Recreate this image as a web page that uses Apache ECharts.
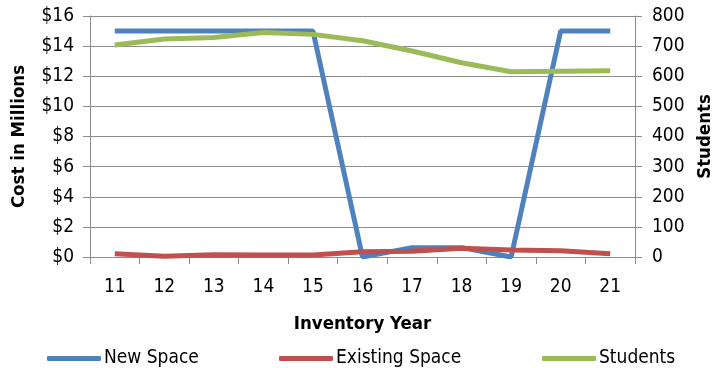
<!DOCTYPE html>
<html><head><meta charset="utf-8">
<script src="https://cdn.jsdelivr.net/npm/echarts@6/dist/echarts.min.js"></script>
<style>html,body{margin:0;padding:0;background:#fff}#c{width:717px;height:368px}</style>
</head><body><div id="c"></div>
<script>
const years = ['11','12','13','14','15','16','17','18','19','20','21'];
const newSpace = [15,15,15,15,15,0,0.62,0.62,0,15,15];
const existingSpace = [0.22,0.05,0.15,0.13,0.13,0.35,0.38,0.58,0.46,0.42,0.22];
const students = [704,724,729,745,739,718,684,645,615,617,618];
const costTicks = [0,2,4,6,8,10,12,14,16];
const studentTicks = [0,100,200,300,400,500,600,700,800];

const FONT = 'DejaVu Sans Condensed';
const chart = echarts.init(document.getElementById('c'));
const gridColor = '#8c8c8c';
function legend(name, left){
  return {data:[name], left:left, top:349, icon:'roundRect', itemWidth:54, itemHeight:5,
    textStyle:{fontFamily:FONT, fontSize:19, color:'#000', padding:[0,0,0,-2]}, itemGap:0, padding:0};
}
chart.setOption({
  animation:false,
  textStyle:{fontFamily:FONT},
  grid:{left:90, right:82, top:16, bottom:111, containLabel:false, outerBoundsMode:'none'},
  legend:[legend('New Space',47), legend('Existing Space',279), legend('Students',542)],
  xAxis:{type:'category', data:years, boundaryGap:true,
    name:'Inventory Year', nameLocation:'middle', nameGap:58,
    nameTextStyle:{fontFamily:FONT, fontSize:18.5, fontWeight:'bold', color:'#000'},
    axisLine:{lineStyle:{color:gridColor, width:1}},
    axisTick:{show:true, length:7, lineStyle:{color:gridColor}},
    axisLabel:{fontFamily:FONT, fontSize:19, color:'#000', margin:21}},
  yAxis:[{type:'value', min:costTicks[0], max:costTicks[costTicks.length-1], interval:2,
      name:'Cost in Millions', nameLocation:'middle', nameGap:61, nameRotate:90,
      nameTextStyle:{fontFamily:FONT, fontSize:18.5, fontWeight:'bold', color:'#000'},
      axisLine:{show:true, lineStyle:{color:gridColor}},
      axisTick:{show:true, length:7, lineStyle:{color:gridColor}},
      axisLabel:{fontFamily:FONT, fontSize:19, color:'#000', margin:16, formatter:v=>'$'+v},
      splitLine:{lineStyle:{color:gridColor, width:1}}},
    {type:'value', min:studentTicks[0], max:studentTicks[studentTicks.length-1], interval:100,
      name:'Students', nameLocation:'middle', nameGap:61, nameRotate:90,
      nameTextStyle:{fontFamily:FONT, fontSize:18.5, fontWeight:'bold', color:'#000'},
      axisLine:{show:true, lineStyle:{color:gridColor}},
      axisTick:{show:true, length:7, lineStyle:{color:gridColor}},
      axisLabel:{fontFamily:FONT, fontSize:19, color:'#000', margin:17},
      splitLine:{show:false}}],
  series:[
    {name:'New Space', type:'line', data:newSpace, yAxisIndex:0, symbol:'none',
      lineStyle:{color:'#4F81BD', width:5}, itemStyle:{color:'#4F81BD'}},
    {name:'Existing Space', type:'line', data:existingSpace, yAxisIndex:0, symbol:'none',
      lineStyle:{color:'#C0504D', width:5}, itemStyle:{color:'#C0504D'}},
    {name:'Students', type:'line', data:students, yAxisIndex:1, symbol:'none',
      lineStyle:{color:'#9BBB59', width:5}, itemStyle:{color:'#9BBB59'}}
  ]
});
</script></body></html>
